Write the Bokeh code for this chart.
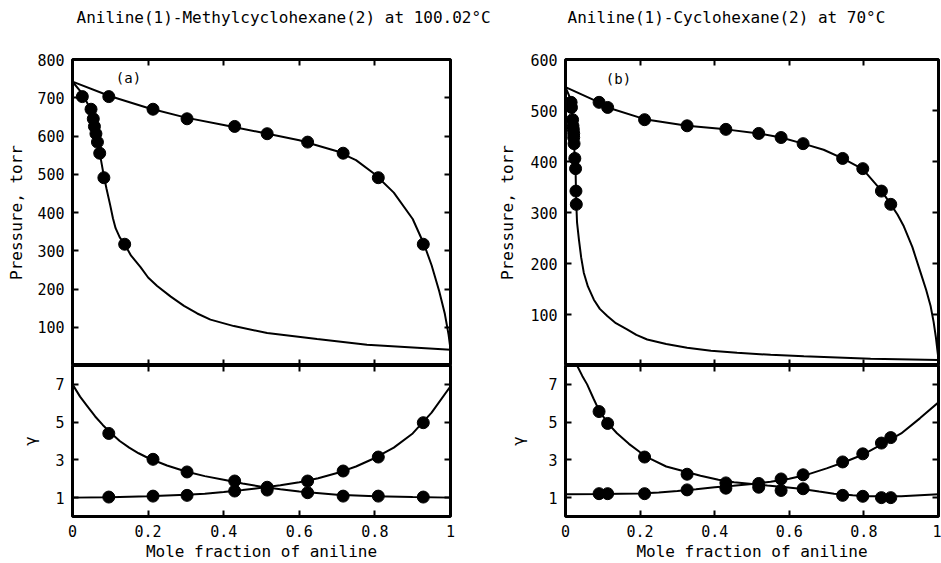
from bokeh.plotting import figure
from bokeh.layouts import row, column
from bokeh.models import Range1d, FixedTicker, LinearAxis, Label, Title
from bokeh.embed import file_html
from bokeh.resources import INLINE

FONT = "DejaVu Sans Mono"

# ---------------- data: panel (a) Aniline(1)-Methylcyclohexane(2) at 100.02 C
a_x_liq = [0.096, 0.213, 0.303, 0.429, 0.515, 0.622, 0.716, 0.809, 0.928]
a_y_vap = [0.026, 0.049, 0.055, 0.058, 0.062, 0.066, 0.072, 0.083, 0.138]
a_P = [703, 670, 645, 625, 606, 584, 555, 491, 317]
a_gamma1 = [4.40, 3.03, 2.36, 1.88, 1.40, 1.26, 1.08, 1.08, 1.03]
a_gamma2 = [1.03, 1.08, 1.12, 1.35, 1.55, 1.88, 2.41, 3.15, 4.97]

a_bub_x = [0, 0.1, 0.2, 0.3, 0.4, 0.5, 0.6, 0.7, 0.75, 0.8, 0.85, 0.9, 0.93, 0.95, 0.97,
           0.985, 0.995, 1.0]
a_bub_P = [742, 704, 673, 648, 629, 609, 589, 560, 537, 500, 452, 383, 317, 262, 195,
           135, 80, 42]
a_dew_x = [0, 0.026, 0.049, 0.055, 0.062, 0.072, 0.083, 0.09, 0.1, 0.107, 0.114, 0.125, 0.138,
           0.155, 0.18, 0.2, 0.224, 0.26, 0.295, 0.33, 0.365, 0.427, 0.515, 0.647, 0.779, 1.0]
a_dew_P = [742, 711, 667, 645, 610, 556, 495, 462, 418, 385, 359, 335, 317,
           287, 257, 230, 208, 180, 156, 136, 120, 103, 85, 69, 54, 41]
a_g1_x = [0, 0.02, 0.039, 0.06, 0.08, 0.1, 0.125, 0.15, 0.175, 0.2, 0.25, 0.3, 0.35, 0.4,
          0.45, 0.5, 0.55, 0.6, 0.7, 0.8, 0.9, 1.0]
a_g1_c = [7.0, 6.35, 5.85, 5.3, 4.85, 4.45, 4.0, 3.65, 3.35, 3.1, 2.7, 2.38, 2.14, 1.95,
          1.75, 1.58, 1.44, 1.32, 1.15, 1.07, 1.03, 1.0]
a_g2_x = [0, 0.1, 0.2, 0.3, 0.35, 0.4, 0.45, 0.5, 0.55, 0.6, 0.65, 0.7, 0.75, 0.8, 0.85,
          0.9, 0.95, 1.0]
a_g2_c = [1.0, 1.02, 1.07, 1.15, 1.21, 1.3, 1.4, 1.52, 1.66, 1.82, 2.03, 2.3, 2.65, 3.1, 3.65,
          4.4, 5.5, 6.9]

# ---------------- data: panel (b) Aniline(1)-Cyclohexane(2) at 70 C
b_x_liq = [0.090, 0.113, 0.212, 0.326, 0.430, 0.518, 0.578, 0.637, 0.743, 0.797, 0.847, 0.872]
b_y_vap = [0.015, 0.016, 0.019, 0.020, 0.021, 0.022, 0.022, 0.023, 0.025, 0.027, 0.028, 0.029]
b_P = [516, 506, 482, 470, 463, 455, 447, 435, 406, 386, 342, 316]
b_gamma1 = [5.56, 4.93, 3.15, 2.24, 1.78, 1.55, 1.38, 1.47, 1.12, 1.07, 1.0, 1.0]
b_gamma2 = [1.21, 1.21, 1.21, 1.41, 1.50, 1.75, 1.99, 2.21, 2.89, 3.32, 3.89, 4.18]

b_bub_x = [0, 0.09, 0.113, 0.212, 0.326, 0.43, 0.518, 0.578, 0.637, 0.692, 0.743, 0.797, 0.847,
           0.872, 0.89, 0.907, 0.93, 0.952, 0.967, 0.979, 0.987, 0.993, 0.997, 1.0]
b_bub_P = [546, 516, 506, 483, 470, 463, 455, 447, 435, 423, 406, 385, 343,
           316, 296, 273, 232, 182, 148, 116, 85, 55, 30, 12]
b_dew_x = [0, 0.012, 0.015, 0.019, 0.021, 0.023, 0.025, 0.027, 0.028, 0.029, 0.031, 0.036, 0.042,
           0.049, 0.06, 0.076, 0.092, 0.112, 0.135, 0.165, 0.19, 0.219, 0.27, 0.326, 0.39, 0.46,
           0.55, 0.639, 0.818, 1.0]
b_dew_P = [546, 525, 516, 482, 463, 435, 404, 386, 345, 316, 280, 247, 212,
           182, 155, 129, 111, 97, 83, 71, 60, 51, 42, 35, 29, 25,
           21, 18, 13, 11]
b_g1_x = [0.031, 0.045, 0.058, 0.075, 0.09, 0.113, 0.138, 0.17, 0.2, 0.228, 0.27, 0.32, 0.362,
          0.41, 0.452, 0.5, 0.541, 0.59, 0.63, 0.68, 0.72, 0.77, 0.81, 0.9, 1.0]
b_g1_c = [8.0, 7.45, 7.0, 6.25, 5.62, 4.95, 4.41, 3.85, 3.4, 3.05, 2.65, 2.38, 2.16,
          1.95, 1.81, 1.72, 1.64, 1.55, 1.47, 1.32, 1.21, 1.12, 1.07, 1.07, 1.18]
b_g2_x = [0, 0.1, 0.2, 0.25, 0.3, 0.35, 0.4, 0.45, 0.5, 0.55, 0.6, 0.65, 0.7, 0.75, 0.8, 0.85,
          0.9, 0.95, 1.0]
b_g2_c = [1.18, 1.19, 1.22, 1.27, 1.35, 1.44, 1.55, 1.63, 1.72, 1.84, 2.0, 2.23, 2.55, 2.9, 3.3,
          3.85, 4.4, 5.2, 6.05]

x_ticks = [0, 0.2, 0.4, 0.6, 0.8, 1.0]
x_tick_labels = ["0", "0.2", "0.4", "0.6", "0.8", "1"]
gamma_ticks = [1, 3, 5, 7]
a_P_ticks = [100, 200, 300, 400, 500, 600, 700, 800]
b_P_ticks = [100, 200, 300, 400, 500, 600]

TOP_BORDER = 59
FRAME_TOP_H = 306
TOP_H = TOP_BORDER + FRAME_TOP_H
BOT_H = 198


def base_axis(ticks, show_labels):
    ax = LinearAxis(ticker=FixedTicker(ticks=ticks))
    ax.major_tick_in = 6
    ax.major_tick_out = 0
    ax.minor_tick_in = 0
    ax.minor_tick_out = 0
    ax.major_tick_line_width = 2
    ax.major_tick_line_color = "black"
    ax.axis_line_color = None
    ax.major_label_text_font = FONT
    ax.axis_label_text_font = FONT
    ax.axis_label_text_font_style = "normal"
    ax.axis_label_text_color = "black"
    ax.axis_label_text_font_size = "16px"
    if show_labels:
        ax.major_label_text_color = "black"
        ax.major_label_text_font_size = "15px"
        ax.major_label_standoff = 8
    else:
        ax.major_label_text_color = None
        ax.major_label_text_font_size = "0px"
        ax.major_label_standoff = 0
    return ax


def new_fig(w, h, ymax, left, right, top, bottom):
    p = figure(width=w, height=h, x_range=Range1d(0, 1), y_range=Range1d(0, ymax),
               output_backend="svg", toolbar_location=None,
               x_axis_location=None, y_axis_location=None,
               min_border_left=left, min_border_right=right,
               min_border_top=top, min_border_bottom=bottom)
    p.xgrid.grid_line_color = None
    p.ygrid.grid_line_color = None
    p.outline_line_color = "black"
    p.outline_line_width = 3
    p.background_fill_color = "white"
    p.border_fill_color = "white"
    return p


def panel(w, left, right, title, title_off, letter, letter_x, letter_y, ymax, p_ticks,
          p_label_standoff, g_label_standoff,
          x_liq, y_vap, P, g1, g2, bub_x, bub_P, dew_x, dew_P, g1x, g1c, g2x, g2c):
    pt = new_fig(w, TOP_H, ymax, left, right, TOP_BORDER, 0)
    pt.title = Title(text=title, align="left", offset=title_off, text_font=FONT,
                     text_font_size="16px", text_font_style="normal", text_color="black",
                     standoff=10)
    ax = base_axis(p_ticks, True)
    ax.axis_label = "Pressure, torr"
    ax.axis_label_standoff = p_label_standoff
    pt.add_layout(ax, "left")
    pt.add_layout(base_axis(p_ticks, False), "right")
    # inward ticks along the top edge
    pt.add_layout(base_axis(x_ticks, False), "above")
    # invisible spacer that lifts the title away from the frame
    spacer = base_axis(x_ticks, False)
    spacer.major_tick_in = 0
    spacer.major_tick_out = 28
    spacer.major_tick_line_color = None
    pt.add_layout(spacer, "above")
    pt.add_layout(base_axis(x_ticks, False), "below")
    pt.line(bub_x, bub_P, line_color="black", line_width=2)
    pt.line(dew_x, dew_P, line_color="black", line_width=2)
    pt.scatter(x_liq, P, size=12, color="black")
    pt.scatter(y_vap, P, size=12, color="black")
    pt.add_layout(Label(x=letter_x, y=letter_y, text=letter, text_font=FONT,
                        text_font_size="14px", text_align="center",
                        text_baseline="middle", text_color="black"))

    pb = new_fig(w, BOT_H, 8, left, right, 0, 47)
    ay = base_axis(gamma_ticks, True)
    ay.axis_label = "γ"
    ay.axis_label_standoff = g_label_standoff
    pb.add_layout(ay, "left")
    pb.add_layout(base_axis(gamma_ticks, False), "right")
    pb.add_layout(base_axis(x_ticks, False), "above")
    axx = base_axis(x_ticks, True)
    axx.major_label_standoff = 8
    axx.major_label_overrides = {t_: l_ for t_, l_ in zip(x_ticks, x_tick_labels)}
    axx.axis_label = "Mole fraction of aniline"
    axx.axis_label_standoff = 2
    pb.add_layout(axx, "below")
    pb.line(g1x, g1c, line_color="black", line_width=2)
    pb.line(g2x, g2c, line_color="black", line_width=2)
    pb.scatter(x_liq, g1, size=12, color="black")
    pb.scatter(x_liq, g2, size=12, color="black")
    return column(pt, pb, spacing=0)


col_a = panel(495, 72, 45, "Aniline(1)-Methylcyclohexane(2) at 100.02°C", 4, "(a)", 0.148, 752,
              800, a_P_ticks, 8, 12, a_x_liq, a_y_vap, a_P, a_gamma1, a_gamma2,
              a_bub_x, a_bub_P, a_dew_x, a_dew_P, a_g1_x, a_g1_c, a_g2_x, a_g2_c)
col_b = panel(446, 70, 3, "Aniline(1)-Cyclohexane(2) at 70°C", 2, "(b)", 0.142, 562,
              600, b_P_ticks, 10, 17, b_x_liq, b_y_vap, b_P, b_gamma1, b_gamma2,
              b_bub_x, b_bub_P, b_dew_x, b_dew_P, b_g1_x, b_g1_c, b_g2_x, b_g2_c)

layout = row(col_a, col_b, spacing=0)

with open("out.html", "w") as f:
    f.write(file_html(layout, INLINE))
